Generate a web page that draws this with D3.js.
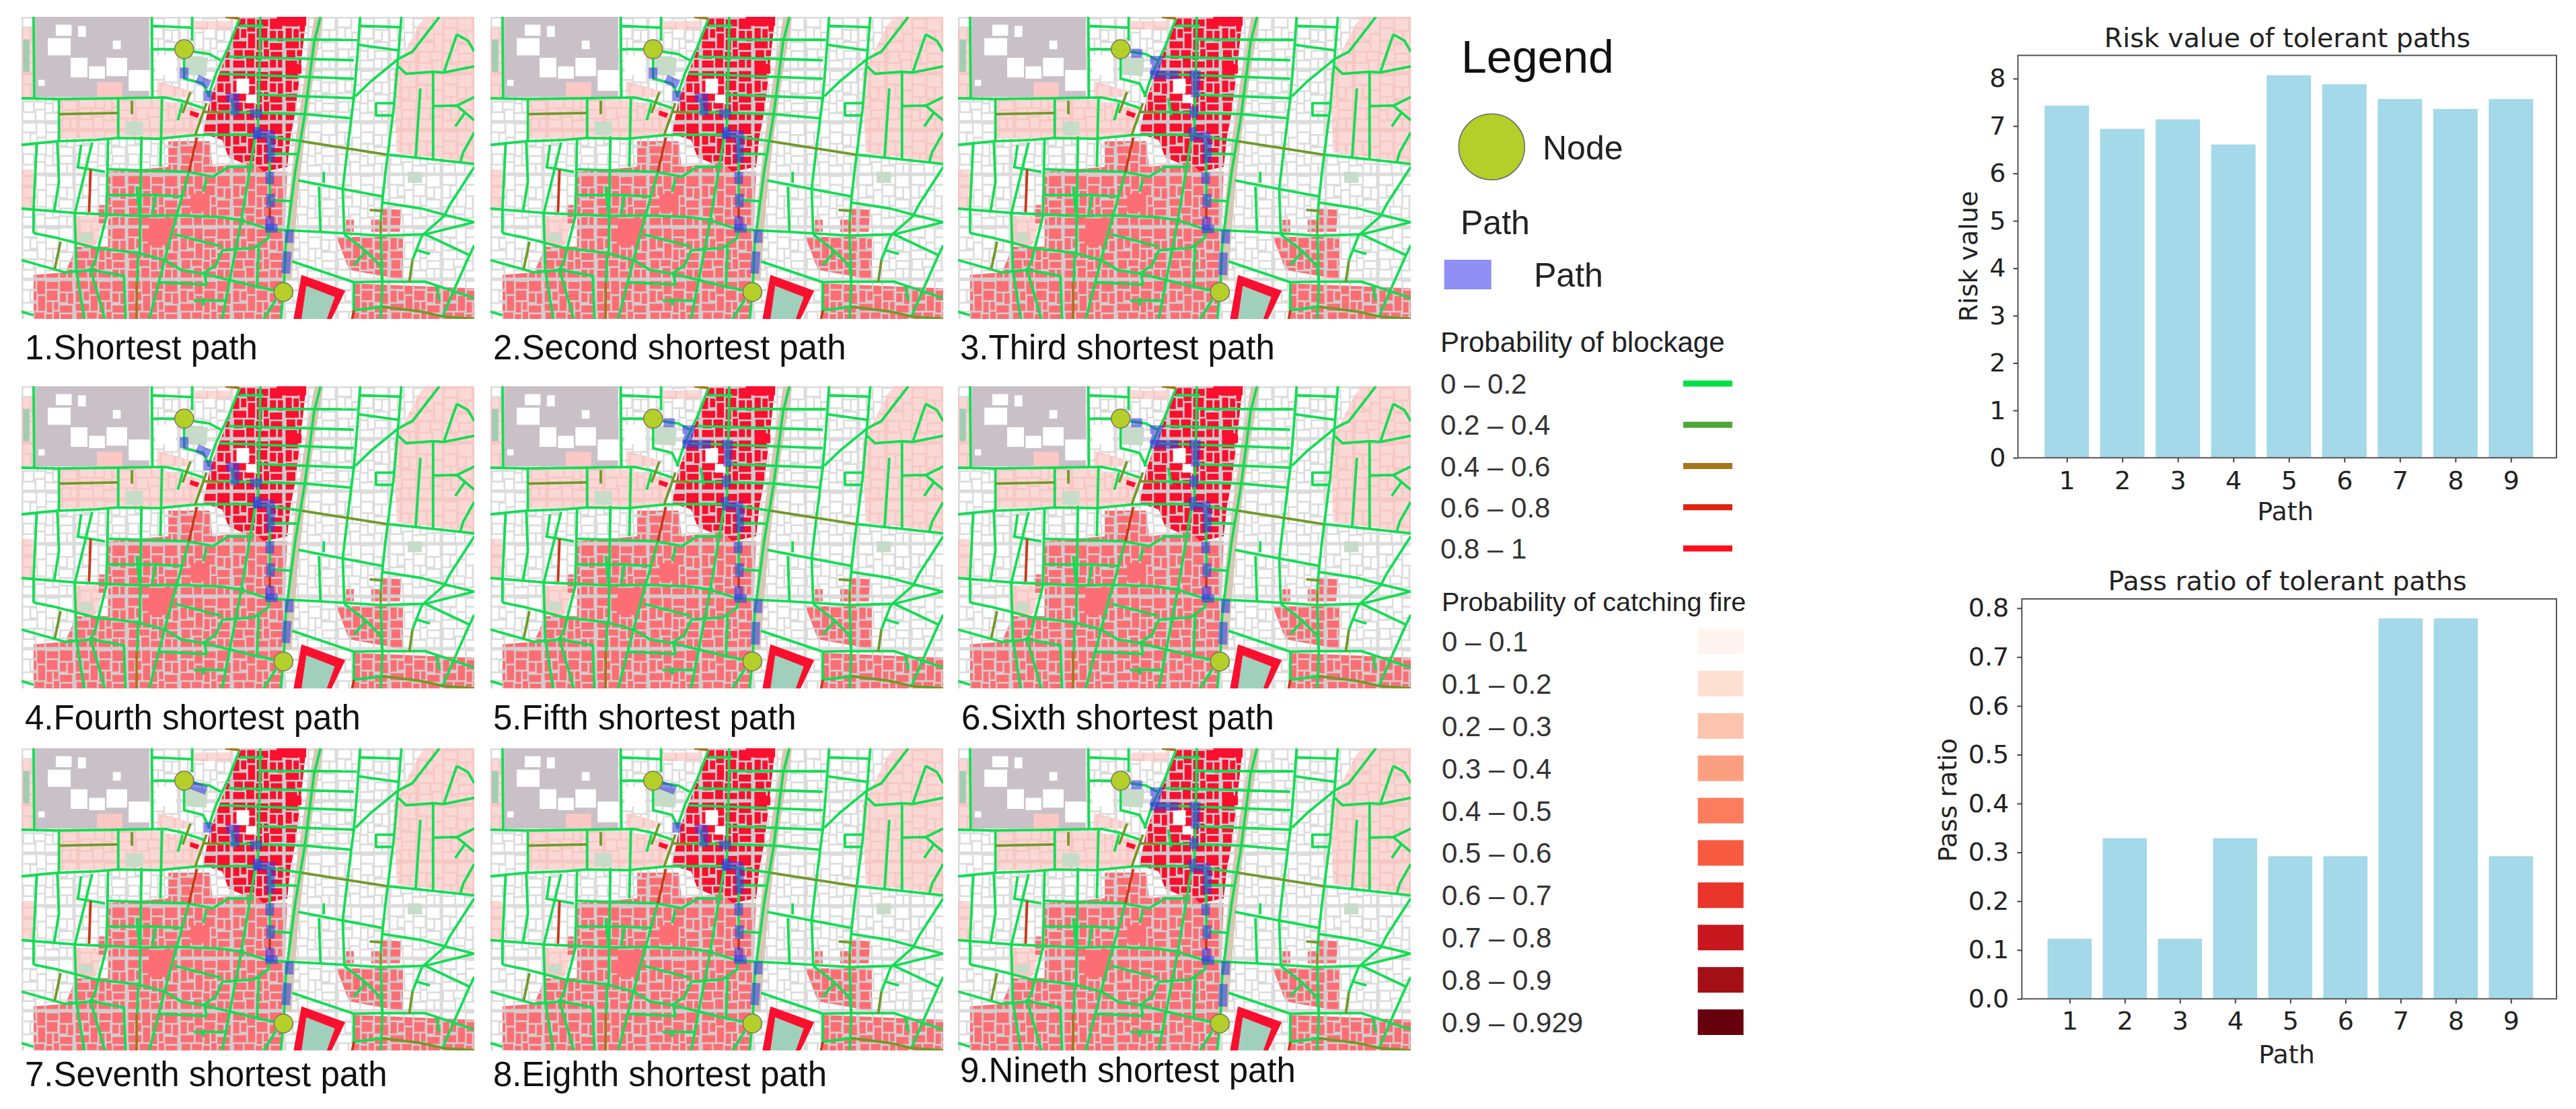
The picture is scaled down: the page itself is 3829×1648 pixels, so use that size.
<!DOCTYPE html>
<html>
<head>
<meta charset="utf-8">
<script src="https://cdnjs.cloudflare.com/ajax/libs/d3/7.8.5/d3.min.js"></script>
<style>
html, body { margin: 0; padding: 0; background: #fff; }
svg { display: block; }
</style>
</head>
<body>
<svg id="fig" width="3829" height="1648"></svg>
<script>
// bar values
const pathIds = [1, 2, 3, 4, 5, 6, 7, 8, 9];
const riskValues = [7.43, 6.94, 7.14, 6.61, 8.07, 7.88, 7.57, 7.36, 7.57];
const passRatios = [0.123, 0.329, 0.123, 0.329, 0.292, 0.292, 0.779, 0.779, 0.292];
const riskTicks = [0, 1, 2, 3, 4, 5, 6, 7, 8];
const passTicks = [0, 0.1, 0.2, 0.3, 0.4, 0.5, 0.6, 0.7, 0.8];

const panelLabels = ["1.Shortest path", "2.Second shortest path", "3.Third shortest path",
  "4.Fourth shortest path", "5.Fifth shortest path", "6.Sixth shortest path",
  "7.Seventh shortest path", "8.Eighth shortest path", "9.Nineth shortest path"];

const blockageLabels = ["0 – 0.2", "0.2 – 0.4", "0.4 – 0.6", "0.6 – 0.8", "0.8 – 1"];
const blockageColors = ["#00e045", "#4fa535", "#a8751f", "#e0240f", "#ff0d1d"];
const fireLabels = ["0 – 0.1", "0.1 – 0.2", "0.2 – 0.3", "0.3 – 0.4", "0.4 – 0.5", "0.5 – 0.6",
  "0.6 – 0.7", "0.7 – 0.8", "0.8 – 0.9", "0.9 – 0.929"];
const fireColors = ["#fff5f0", "#fee0d3", "#fcc4ad", "#fc9f81", "#fb7d5d", "#f85a40", "#e83429",
  "#c8171c", "#a30f15", "#67000d"];

// map geometry, all in one shared map unit system (x 67-1495, y 68-1300)
const greenRoads = [
  [[105,68],[107,400]], [[478,68],[480,400]], [[478,105],[605,112]], [[605,68],[605,165]],
  [[478,200],[555,200]], [[610,210],[660,220],[695,245]], [[755,75],[720,190],[680,300],[655,395]],
  [[67,400],[180,403],[370,400],[520,397],[570,410],[640,440]],
  [[820,68],[818,240],[815,400],[812,550]], [[1010,68],[990,170],[960,470],[930,700],[900,1000],[895,1150]],
  [[720,230],[1115,245]], [[690,300],[1115,320]], [[815,385],[1120,400]], [[700,455],[960,465],[1110,482]],
  [[67,590],[180,575],[300,570],[370,562],[500,565],[620,550],[800,548],[950,575]],
  [[1220,630],[1370,650],[1495,668]], [[818,160],[1125,162]], [[755,105],[830,105]],
  [[1135,68],[1125,250],[1115,400],[1095,605],[1080,770],[1085,950]],
  [[1265,68],[1255,230],[1240,450],[1215,700],[1205,820],[1200,900]],
  [[1200,950],[1205,1150],[1200,1300]], [[1135,105],[1260,110]], [[1130,182],[1255,205]],
  [[1385,68],[1300,210],[1255,240],[1170,330],[1120,392]],
  [[1255,270],[1280,300],[1365,292],[1400,295],[1495,270]], [[1440,140],[1400,290]],
  [[1440,140],[1475,165],[1495,210]], [[1365,295],[1365,650]], [[1325,360],[1310,640]],
  [[1365,432],[1440,430],[1495,490]], [[1440,430],[1495,395]], [[1465,460],[1435,515]],
  [[1240,420],[1185,420],[1185,470],[1240,470]], [[1495,540],[1460,620],[1450,665]],
  [[185,400],[185,575]], [[372,400],[372,565]], [[510,400],[505,680]], [[575,420],[560,490]],
  [[445,555],[440,1030]], [[435,1030],[432,1150]],
  [[67,850],[240,868],[440,880],[560,878],[700,885],[760,898],[850,935],[1010,945],[1200,960],[1340,955],[1495,905]],
  [[1205,825],[1330,850],[1400,875],[1495,905]], [[940,735],[1080,770],[1205,800]],
  [[1495,680],[1420,830],[1400,880],[1330,960],[1300,1060]],
  [[340,690],[590,700],[670,720],[720,680],[800,680]], [[595,700],[530,1000],[470,1300]],
  [[805,550],[760,900],[700,1300]], [[340,570],[335,880],[300,1060],[285,1100]],
  [[290,580],[235,870],[240,1100],[265,1300]], [[255,590],[245,680]], [[180,580],[185,740],[170,860]],
  [[115,580],[105,850],[105,950]], [[105,950],[180,970],[300,1010],[430,1030],[520,1060],[570,1100],[640,1115],[800,1165],[870,1185]],
  [[67,1060],[205,1110],[290,1100],[390,1125],[395,1300]], [[285,1100],[330,1300]],
  [[550,955],[700,1005]], [[700,1020],[800,1010],[845,970],[850,930]],
  [[700,1020],[680,1080],[640,1115]], [[645,1115],[650,1160],[500,1150]],
  [[920,1065],[1115,1150],[1205,1148],[1340,1148],[1495,1215]],
  [[1085,955],[1150,1020],[1200,1085],[1205,1150]], [[1150,1030],[1115,1080]],
  [[1115,1150],[1115,1265],[1205,1250]], [[1005,760],[1010,945]], [[1020,700],[1020,745]],
  [[850,570],[850,840]], [[895,1150],[885,1300]], [[870,1220],[830,1300]],
  [[810,1165],[815,1000]], [[860,815],[920,820]], [[850,625],[935,628]],
  [[490,790],[480,870]], [[340,795],[480,795],[570,800]], [[650,730],[640,780]],
  [[610,1225],[710,1225]], [[640,1215],[640,1245]], [[430,760],[440,880]],
  [[1315,1020],[1355,1035]], [[1340,955],[1480,1040],[1495,1000]], [[1480,1040],[1430,1185],[1395,1290]],
  [[1375,1165],[1385,1225]], [[67,1270],[105,1285]],
  [[580,235],[580,320],[640,340],[660,395]], [[240,680],[330,700]], [[730,400],[740,470]]
];
const oliveRoads = [
  [[650,420],[615,550]], [[600,375],[575,460]], [[415,410],[415,465]], [[185,465],[370,460]],
  [[640,455],[700,458]], [[950,575],[1095,605],[1220,630]], [[1165,855],[1205,860]],
  [[1200,900],[1200,950]], [[190,985],[172,1095]], [[1300,1060],[1290,1150]],
  [[1205,1250],[1330,1270],[1395,1290],[1495,1300]]
];
const brownRoads = [[[430,1150],[430,1300]], [[710,68],[755,75]]];
const redRoads = [[[285,690],[280,865]], [[620,560],[595,700]], [[850,845],[850,890]], [[1115,1265],[1110,1300]]];

const lightPinkAreas = [
  [[67,115],[105,115],[105,400],[67,400]],
  [[185,405],[510,405],[505,560],[185,565]],
  [[510,410],[635,445],[620,550],[510,560]],
  [[1340,68],[1495,68],[1495,665],[1370,640],[1250,620],[1240,300],[1320,100]],
  [[67,690],[105,690],[105,850],[67,850]],
  [[240,880],[330,880],[300,1000],[240,1000]],
  [[610,85],[730,85],[725,120],[610,120]],
  [[495,330],[600,370],[590,395],[495,395]]
];
const sportsGreens = [[[72,160],[92,160],[92,292],[72,292]], [[835,80],[860,80],[860,105],[835,105]]];
const parkGreens = [
  [[1285,700],[1330,700],[1330,745],[1285,745]], [[395,495],[450,495],[450,550],[395,550]],
  [[585,225],[655,235],[650,310],[585,305]], [[250,950],[290,950],[290,985],[250,985]]
];
const redZone = [[760,68],[965,68],[945,300],[930,460],[915,560],[905,680],[830,700],[720,640],[700,570],[640,545],[660,410],[690,300],[720,200]];
const pinkZones = [
  [[530,575],[660,575],[670,680],[800,660],[830,700],[905,700],[895,1000],[885,1300],[105,1300],[105,1120],[205,1110],[240,1005],[340,1005],[340,700],[530,680]],
  [[1060,965],[1270,965],[1270,1140],[1100,1100]],
  [[1115,1155],[1495,1175],[1495,1300],[1115,1300]],
  [[1205,850],[1265,855],[1260,945],[1205,945]],
  [[1090,895],[1115,895],[1115,945],[1090,945]],
  [[1170,895],[1195,895],[1195,945],[1170,945]],
  [[310,835],[335,835],[335,910],[310,910]]
];
const beigeStrip = [[1005,68],[975,300],[945,570],[925,800],[905,1140]];
const stadiumOuter = [[950,1120],[1088,1185],[1045,1300],[925,1300]];
const stadiumInner = [[965,1165],[1055,1210],[1030,1300],[950,1300]];
const purpleYard = [[110,68],[470,68],[470,395],[110,395]];
const whiteBlocks = [
  [[175,100],[225,100],[225,145],[175,145]], [[245,105],[270,105],[270,150],[245,150]],
  [[150,155],[222,155],[222,225],[150,225]], [[222,235],[275,235],[275,315],[222,315]],
  [[335,235],[400,235],[400,310],[335,310]], [[405,285],[470,285],[470,370],[405,370]],
  [[280,270],[330,270],[330,320],[280,320]], [[355,165],[380,165],[380,200],[355,200]],
  [[120,325],[140,325],[140,350],[120,350]], [[745,320],[785,320],[785,380],[745,380]],
  [[775,385],[808,385],[808,420],[775,420]], [[490,225],[555,225],[555,305],[490,305]]
];
const paleBlocks = [[[305,335],[385,335],[385,395],[305,395]]];
const bigRedBlocks = [[[872,68],[965,68],[965,105],[872,105]], [[900,245],[950,265],[950,300],[900,300]], [[600,450],[628,462],[622,480],[597,468]]];
const bigPinkBlocks = [[[470,890],[550,890],[525,1000],[465,1000]], [[600,790],[660,790],[660,862],[600,862]]];

// the nine tolerant paths, each a list of short stretches along the streets
const routeSouth = [
  [[580,275],[580,320]], [[620,320],[660,345]], [[655,370],[655,412]], [[712,398],[740,398],[740,470]],
  [[788,462],[826,462]], [[810,518],[810,565]], [[800,548],[866,548]], [[852,565],[852,660]],
  [[850,700],[850,750]], [[852,790],[852,845]], [[850,880],[850,937]], [[836,930],[875,930]],
  [[911,937],[911,990]], [[905,1025],[900,1115]]
];
const routeEast = [
  [[613,217],[648,217]], [[673,245],[698,245],[684,305]], [[673,305],[762,305]],
  [[797,305],[818,305],[815,396]], [[811,433],[811,479]], [[804,520],[811,557],[864,552]],
  [[853,570],[853,662]], [[848,703],[848,749]], [[852,790],[852,846]], [[850,882],[850,937]],
  [[836,933],[875,933]], [[911,937],[910,992]], [[904,1029],[902,1121]]
];
const routeMixed = [
  [[600,215],[650,240]], [[655,370],[655,412]], [[712,398],[740,398],[740,470]], [[788,462],[826,462]],
  [[810,518],[810,565]], [[800,548],[866,548]], [[852,565],[852,660]], [[850,700],[850,750]],
  [[852,790],[852,845]], [[850,880],[850,937]], [[836,930],[875,930]], [[911,937],[911,990]],
  [[905,1025],[900,1115]]
];
const panelRoutes = [routeSouth, routeSouth, routeEast, routeSouth, routeEast, routeEast, routeMixed, routeMixed, routeEast];
const startNode = [[580,200]];
const endNode = [[893,1190]];

// hand-placed building footprints for the repeating city texture
const tileBlocks = [
  [2,2,14,9],[18,2,9,15],[29,3,13,8],[44,2,14,12],[2,13,7,13],[11,14,6,10],[29,13,12,11],
  [44,16,7,10],[53,16,6,12],[2,28,15,8],[19,19,8,17],[29,26,6,12],[37,26,5,9],[44,30,14,8],
  [3,38,10,10],[15,38,11,7],[37,37,6,11],[28,40,7,9],[45,40,13,7],[2,50,13,8],[17,47,9,11],
  [28,51,14,7],[44,49,7,9],[53,49,5,9]
];

const mapW = 673, mapH = 449;
const colX = [32, 729, 1424];
const rowY = [25, 574, 1112];
const labelX = [[37, 733, 1427], [37, 733, 1429], [37, 733, 1427]];
const labelY = [[534, 534, 534], [1084, 1084, 1084], [1614, 1614, 1608]];

const svg = d3.select("#fig");
const defs = svg.append("defs");
const sans = "'Liberation Sans', Arial, sans-serif";
const plotFont = "'DejaVu Sans', sans-serif";

function addTexture(id, ground, block, zoom) {
  const p = defs.append("pattern").attr("id", id).attr("patternUnits", "userSpaceOnUse")
    .attr("width", 60).attr("height", 60).attr("patternTransform", `scale(${zoom})`);
  p.append("rect").attr("width", 60).attr("height", 60).attr("fill", ground);
  p.selectAll("rect.b").data(tileBlocks).join("rect").attr("class", "b")
    .attr("x", d => d[0]).attr("y", d => d[1]).attr("width", d => d[2]).attr("height", d => d[3])
    .attr("fill", block);
}
addTexture("texResid", "#dcdcdc", "#ffffff", 1.3);
addTexture("texPink", "#d4cccc", "#fc6e74", 1.3);
addTexture("texRed", "#d0c8ca", "#fb0f2e", 1.3);
addTexture("texPale", "#f6c8c4", "#fad8d5", 1.4);

function drawMap(i) {
  const px = colX[i % 3], py = rowY[Math.floor(i / 3)];
  const x = d3.scaleLinear().domain([67, 1495]).range([0, mapW]);
  const y = d3.scaleLinear().domain([68, 1300]).range([0, mapH]);
  const line = d3.line().x(d => x(d[0])).y(d => y(d[1]));
  const clipId = "clip" + i;
  defs.append("clipPath").attr("id", clipId).append("rect").attr("width", mapW).attr("height", mapH);
  const g = svg.append("g").attr("transform", `translate(${px},${py})`).attr("clip-path", `url(#${clipId})`);
  const soft = g.append("g").style("filter", "blur(0.7px)");

  soft.append("rect").attr("width", mapW).attr("height", mapH).attr("fill", "url(#texResid)");

  function areas(list, fill) {
    soft.append("g").selectAll("path").data(list).join("path")
      .attr("d", d => line(d) + "Z").attr("fill", fill);
  }
  areas([purpleYard], "#c9c0c8");
  areas(lightPinkAreas, "url(#texPale)");
  areas(sportsGreens, "#9fcdb6");
  areas(parkGreens, "#c6dcc8");
  areas([redZone], "url(#texRed)");
  areas(pinkZones, "url(#texPink)");
  areas(whiteBlocks, "#ffffff");
  areas(paleBlocks, "#fbc8c5");
  areas(bigRedBlocks, "#fb0f2e");
  areas(bigPinkBlocks, "#fc6e74");
  soft.append("path").attr("d", line(beigeStrip)).attr("fill", "none")
    .attr("stroke", "#d6c8b4").attr("stroke-width", 13);
  areas([stadiumOuter], "#fb0f2e");
  areas([stadiumInner], "#a0cfbc");

  function roads(list, color) {
    soft.append("g").selectAll("path").data(list).join("path")
      .attr("d", line).attr("fill", "none").attr("stroke", color)
      .attr("stroke-width", 3.8).attr("stroke-linejoin", "round");
  }
  roads(greenRoads, "#14dc55");
  roads(oliveRoads, "#6f9a2a");
  roads(brownRoads, "#a8751f");
  roads(redRoads, "#c8391a");

  soft.append("g").selectAll("path").data(panelRoutes[i]).join("path")
    .attr("d", line).attr("fill", "none").attr("stroke", "#3636e2").attr("stroke-opacity", 0.56)
    .attr("stroke-width", 13);

  g.append("g").selectAll("circle").data(startNode.concat(endNode)).join("circle")
    .attr("cx", d => x(d[0])).attr("cy", d => y(d[1])).attr("r", 14)
    .attr("fill", "#b5cf2a").attr("stroke", "#77775a").attr("stroke-width", 1.5);

  svg.append("text").attr("x", labelX[Math.floor(i / 3)][i % 3]).attr("y", labelY[Math.floor(i / 3)][i % 3])
    .attr("font-family", sans).attr("font-size", 51).attr("fill", "#111").text(panelLabels[i]);
}
d3.range(9).forEach(drawMap);

// legend column
function txt(xp, yp, size, s, fill) {
  return svg.append("text").attr("x", xp).attr("y", yp).attr("font-family", sans)
    .attr("font-size", size).attr("fill", fill || "#222").text(s);
}
txt(2172, 107.7, 68, "Legend", "#111");
svg.append("circle").attr("cx", 2217.3).attr("cy", 218.3).attr("r", 49)
  .attr("fill", "#b5cf2a").attr("stroke", "#666").attr("stroke-width", 1.5);
txt(2293, 236.7, 50, "Node");
txt(2171, 348, 50, "Path");
svg.append("rect").attr("x", 2146.7).attr("y", 386).attr("width", 70).attr("height", 44).attr("fill", "#8f8ff5");
txt(2280, 426, 50, "Path");

txt(2141, 523, 42, "Probability of blockage");
const blockageY = d3.scalePoint().domain(blockageLabels).range([570, 815]);
const blockRows = svg.append("g").selectAll("g").data(blockageLabels).join("g")
  .attr("transform", d => `translate(0,${blockageY(d)})`);
blockRows.append("text").attr("x", 2141).attr("y", 15).attr("font-family", sans)
  .attr("font-size", 42).attr("fill", "#333").text(d => d);
blockRows.append("rect").attr("x", 2502).attr("y", -4.5).attr("width", 73).attr("height", 9)
  .attr("fill", (d, i) => blockageColors[i]);

txt(2143, 907.7, 39.5, "Probability of catching fire");
const fireY = d3.scalePoint().domain(fireLabels).range([953, 1519]);
const fireRows = svg.append("g").selectAll("g").data(fireLabels).join("g")
  .attr("transform", d => `translate(0,${fireY(d)})`);
fireRows.append("text").attr("x", 2143).attr("y", 15).attr("font-family", sans)
  .attr("font-size", 42).attr("fill", "#333").text(d => d);
fireRows.append("rect").attr("x", 2523.6).attr("y", -19).attr("width", 68).attr("height", 38)
  .attr("fill", (d, i) => fireColors[i]);

// the two bar charts
function barChart(o) {
  const x = d3.scaleLinear().domain(o.xDomain).range([o.left, o.right]);
  const y = d3.scaleLinear().domain(o.yDomain).range([o.bottom, o.top]);
  const barW = x(1.8) - x(1);
  const g = svg.append("g");
  g.selectAll("rect.bar").data(pathIds).join("rect").attr("class", "bar")
    .attr("x", d => x(d) - barW / 2)
    .attr("y", (d, i) => y(o.values[i]))
    .attr("width", barW)
    .attr("height", (d, i) => o.bottom - y(o.values[i]))
    .attr("fill", "#a3d9e8");
  g.append("rect").attr("x", o.left).attr("y", o.top).attr("width", o.right - o.left)
    .attr("height", o.bottom - o.top).attr("fill", "none").attr("stroke", "#555").attr("stroke-width", 2);

  const xAxis = d3.axisBottom(x).tickValues(pathIds).tickFormat(d3.format("d")).tickSize(7).tickPadding(o.xPad);
  const yAxis = d3.axisLeft(y).tickValues(o.ticks).tickFormat(d3.format(o.fmt)).tickSize(7).tickPadding(o.yPad);
  [g.append("g").attr("transform", `translate(0,${o.bottom})`).call(xAxis),
   g.append("g").attr("transform", `translate(${o.left},0)`).call(yAxis)].forEach(a => {
    a.select(".domain").remove();
    a.selectAll("line").attr("stroke", "#444").attr("stroke-width", 2);
    a.selectAll("text").attr("font-family", plotFont).attr("font-size", 38).attr("fill", "#222");
  });

  g.append("text").attr("x", o.titleX).attr("y", o.titleY).attr("text-anchor", "middle")
    .attr("font-family", plotFont).attr("font-size", 39.5).attr("fill", "#222").text(o.title);
  g.append("text").attr("x", o.xLabelX).attr("y", o.xLabelY).attr("text-anchor", "middle")
    .attr("font-family", plotFont).attr("font-size", 38).attr("fill", "#222").text("Path");
  g.append("text").attr("transform", `translate(${o.yLabelX},${o.yLabelY}) rotate(-90)`)
    .attr("text-anchor", "middle").attr("dy", "0.36em")
    .attr("font-family", plotFont).attr("font-size", 38).attr("fill", "#222").text(o.yLabel);
}

barChart({
  values: riskValues, ticks: riskTicks, fmt: "d", title: "Risk value of tolerant paths", yLabel: "Risk value",
  xDomain: [0.12, 9.82], yDomain: [0, 8.49], left: 2999.5, right: 3800, top: 82.3, bottom: 680.3,
  xPad: 13, yPad: 11, titleX: 3400, titleY: 70, xLabelX: 3397, xLabelY: 773, yLabelX: 2925, yLabelY: 381
});
barChart({
  values: passRatios, ticks: passTicks, fmt: ".1f", title: "Pass ratio of tolerant paths", yLabel: "Pass ratio",
  xDomain: [0.134, 9.826], yDomain: [0, 0.819], left: 3005.3, right: 3800, top: 890, bottom: 1484.3,
  xPad: 12, yPad: 12, titleX: 3400, titleY: 876.7, xLabelX: 3399, xLabelY: 1580, yLabelX: 2894, yLabelY: 1189
});
</script>
</body>
</html>
